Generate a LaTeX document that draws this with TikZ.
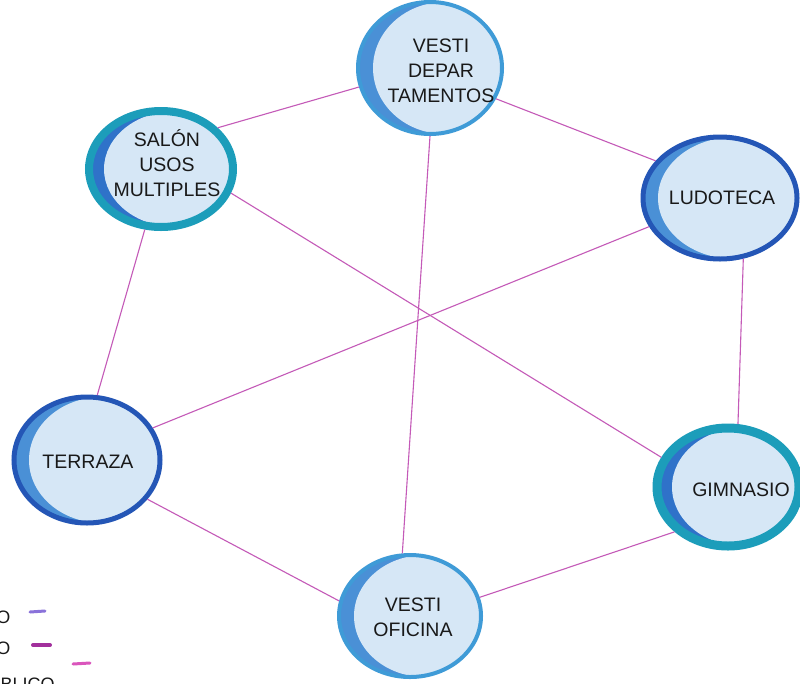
\documentclass[tikz,border=0pt]{standalone}
\usepackage{fontspec}
\setmainfont{Liberation Sans}
\usetikzlibrary{shapes.geometric}
\definecolor{roomfill}{HTML}{D6E7F6}
\definecolor{crescentA}{HTML}{4A90D6}
\definecolor{crescentB}{HTML}{2F72C9}
\definecolor{ringLight}{HTML}{3F9BD7}
\definecolor{ringTeal}{HTML}{1C9DBA}
\definecolor{ringDark}{HTML}{2456B6}
\definecolor{linkcol}{HTML}{C45AB8}
\definecolor{legA}{HTML}{8A72DA}
\definecolor{legB}{HTML}{A2309C}
\definecolor{legC}{HTML}{DA55BC}
\newcommand\roomnode[8]{%
  \begin{scope}
    \clip (#2,#3) ellipse [x radius=#4, y radius=#5];
    \fill[#8] (#2,#3) ellipse [x radius=#4, y radius=#5];
    \fill[roomfill] (#2+15,#3) ellipse [x radius=#4, y radius=#5];
  \end{scope}
  \node[roomring, draw=#6, line width=#7, minimum width=2*#4, minimum height=2*#5] (#1) at (#2,#3) {};
}
\begin{document}
\begin{tikzpicture}[x=1pt,y=-1pt,
  roomring/.style={ellipse, inner sep=0pt},
  roomtext/.style={align=center, font=\fontsize{19.5}{25}\selectfont, text=black!90},
  link/.style={draw=linkcol, line width=1.1pt},
  legtext/.style={font=\fontsize{18}{22}\selectfont, text=black!90}]
\useasboundingbox (0,0) rectangle (800,683);
\clip (0,0) rectangle (800,683);
\fill[white] (0,0) rectangle (800,683);

\roomnode{vd}{430}{68}{72}{66}{ringLight}{4pt}{crescentA}
\roomnode{sal}{161}{169}{72}{58}{ringTeal}{8pt}{crescentB}
\roomnode{lud}{720}{198}{77}{61}{ringDark}{5pt}{crescentA}
\roomnode{ter}{87}{460}{73}{63}{ringDark}{5pt}{crescentA}
\roomnode{gim}{728}{487}{71}{59}{ringTeal}{9pt}{crescentB}
\roomnode{vo}{410}{616}{71}{61}{ringLight}{4pt}{crescentA}

\node[roomtext] at (441,71) {VESTI\\DEPAR\\TAMENTOS};
\node[roomtext] at (167,163) {SALÓN\\USOS\\MULTIPLES};
\node[roomtext] at (722,198) {LUDOTECA};
\node[roomtext] at (88,462) {TERRAZA};
\node[roomtext] at (741,490) {GIMNASIO};
\node[roomtext] at (413,617) {VESTI\\OFICINA};

\draw[link] (vd.195) -- (sal.36);
\draw[link] (vd.-25) -- (lud.150);
\draw[link] (vd.-90) -- (vo.97);
\draw[link] (sal.-105) -- (ter.81);
\draw[link] (sal.-19) -- (gim.156);
\draw[link] (lud.202) -- (ter.26);
\draw[link] (lud.-69) -- (gim.81);
\draw[link] (ter.-33) -- (vo.168);
\draw[link] (gim.220) -- (vo.15);

\node[legtext, anchor=east] (l1) at (14,617) {O};
\node[legtext, anchor=east] (l2) at (14,648) {O};
\node[legtext, anchor=base west] (l3) at (-3,690) {BLICO};
\coordinate (d1a) at (30,612); \coordinate (d1b) at (45,611);
\coordinate (d2a) at (33,645); \coordinate (d2b) at (50,645);
\coordinate (d3a) at (73,664); \coordinate (d3b) at (90,663);
\draw[legA, line width=3pt, line cap=round] (d1a) -- (d1b);
\draw[legB, line width=4pt, line cap=round] (d2a) -- (d2b);
\draw[legC, line width=3pt, line cap=round] (d3a) -- (d3b);
\end{tikzpicture}
\end{document}
